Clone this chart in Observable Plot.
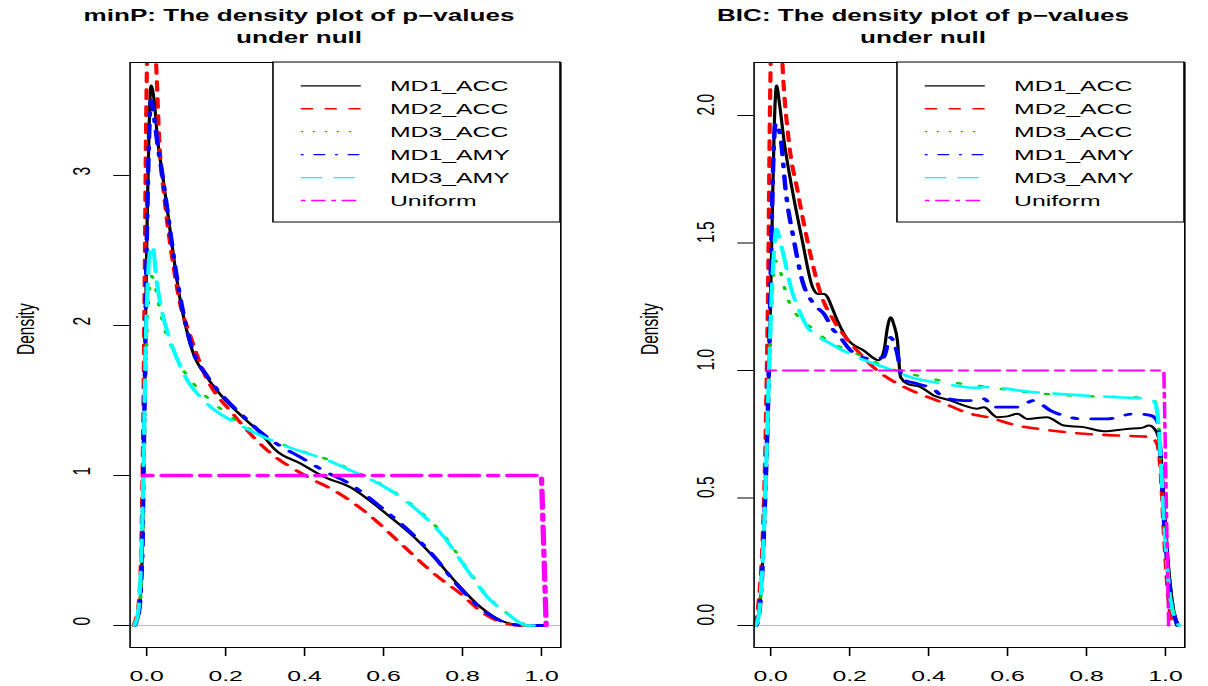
<!DOCTYPE html>
<html><head><meta charset="utf-8">
<script src="https://cdn.jsdelivr.net/npm/d3@7"></script>
<script src="https://cdn.jsdelivr.net/npm/@observablehq/plot@0.6"></script>
<style>
body{margin:0;background:#fff;}
#wrap{display:flex;width:1208px;height:686px;overflow:hidden;}
</style></head><body><div id="wrap"></div>
<script>
// ---------- data ----------
const seriesNames = ["MD1_ACC","MD2_ACC","MD3_ACC","MD1_AMY","MD3_AMY","Uniform"];
const seriesColors = ["#000000","#FF0000","#00CD00","#0000FF","#00FFFF","#FF00FF"];
const xTicks = [0,0.2,0.4,0.6,0.8,1.0];
const xTickLabels = ["0.0","0.2","0.4","0.6","0.8","1.0"];
const minPYTicks = [0,1,2,3];
const minPYTickLabels = ["0","1","2","3"];
const bicYTicks = [0,0.5,1,1.5,2];
const bicYTickLabels = ["0.0","0.5","1.0","1.5","2.0"];
const titles = ["minP: The density plot of p\u2212values\nunder null","BIC: The density plot of p\u2212values\nunder null"];
const yLabel = "Density";

// minP panel
const minP_MD1_ACC = [[-0.031,0],[-0.022,0.05],[-0.019,0.1],[-0.014,0.28],[-0.010,0.61],[-0.008,1.05],[-0.004,1.72],[-0.002,2.17],[0.002,2.8],[0.006,3.3],[0.011,3.6],[0.019,3.5],[0.028,3.23],[0.040,3.01],[0.057,2.68],[0.074,2.35],[0.09,2.1],[0.104,1.94],[0.116,1.83],[0.154,1.65],[0.2,1.5],[0.239,1.40],[0.298,1.255],[0.323,1.178],[0.391,1.078],[0.45,0.99],[0.517,0.92],[0.602,0.755],[0.669,0.61],[0.728,0.455],[0.787,0.278],[0.846,0.122],[0.897,0.033],[0.93,0.008],[0.956,0],[1.01,0]];
const minP_MD2_ACC = [[-0.033,0],[-0.02,0.15],[-0.013,0.6],[-0.008,1.5],[-0.004,2.6],[-0.002,3.2],[0.002,3.9],[0.008,4.3],[0.014,4.3],[0.02,4.0],[0.024,3.75],[0.032,3.23],[0.045,2.85],[0.062,2.5],[0.087,2.12],[0.108,1.95],[0.146,1.68],[0.222,1.4],[0.306,1.167],[0.408,0.99],[0.475,0.9],[0.56,0.745],[0.644,0.545],[0.728,0.345],[0.796,0.21],[0.855,0.078],[0.914,0.01],[0.95,0],[1.01,0]];
const minP_MD3_ACC = [[-0.03,0],[-0.019,0.1],[-0.013,0.3],[-0.009,0.65],[-0.006,1.1],[-0.002,1.7],[0.004,2.15],[0.012,2.33],[0.02,2.28],[0.03,2.15],[0.045,1.98],[0.06,1.88],[0.08,1.76],[0.104,1.66],[0.13,1.58],[0.18,1.46],[0.23,1.36],[0.3,1.255],[0.391,1.165],[0.45,1.115],[0.517,1.04],[0.57,0.975],[0.618,0.905],[0.686,0.775],[0.753,0.6],[0.813,0.375],[0.863,0.195],[0.914,0.08],[0.965,0.005],[1.01,0]];
const minP_MD1_AMY = [[-0.03,0],[-0.019,0.1],[-0.014,0.28],[-0.010,0.62],[-0.008,1.05],[-0.004,1.72],[-0.002,2.17],[0.002,2.8],[0.006,3.25],[0.011,3.5],[0.017,3.42],[0.028,3.2],[0.040,3.0],[0.057,2.68],[0.074,2.36],[0.09,2.12],[0.104,1.95],[0.116,1.84],[0.154,1.66],[0.2,1.51],[0.239,1.41],[0.298,1.27],[0.33,1.21],[0.391,1.12],[0.45,1.03],[0.517,0.94],[0.602,0.77],[0.669,0.62],[0.728,0.46],[0.787,0.27],[0.846,0.115],[0.897,0.03],[0.93,0.006],[0.956,0],[1.01,0]];
const minP_MD3_AMY = [[-0.031,0],[-0.022,0.08],[-0.016,0.3],[-0.011,0.7],[-0.007,1.2],[-0.003,1.8],[0.003,2.3],[0.009,2.5],[0.015,2.53],[0.025,2.3],[0.04,2.08],[0.057,1.92],[0.08,1.76],[0.104,1.63],[0.13,1.54],[0.163,1.455],[0.23,1.345],[0.306,1.245],[0.391,1.16],[0.45,1.11],[0.517,1.033],[0.57,0.97],[0.618,0.9],[0.686,0.767],[0.753,0.59],[0.813,0.367],[0.863,0.19],[0.914,0.078],[0.965,0.0],[1.01,0]];
const minP_Uniform = [[-0.01,1],[1.0,1],[1.012,0]];

// BIC panel
const bic_MD1_ACC = [[-0.038,0],[-0.03,0.05],[-0.022,0.2],[-0.017,0.36],[-0.008,0.75],[-0.002,1.145],[0.004,1.6],[0.009,1.95],[0.015,2.118],[0.022,2.05],[0.034,1.90],[0.055,1.706],[0.080,1.51],[0.106,1.327],[0.12,1.30],[0.135,1.30],[0.145,1.285],[0.152,1.26],[0.169,1.196],[0.194,1.124],[0.236,1.078],[0.274,1.04],[0.287,1.078],[0.296,1.17],[0.304,1.209],[0.312,1.18],[0.321,1.118],[0.329,0.974],[0.346,0.948],[0.38,0.935],[0.413,0.902],[0.456,0.882],[0.489,0.863],[0.523,0.85],[0.54,0.856],[0.574,0.817],[0.6,0.82],[0.625,0.83],[0.65,0.81],[0.70,0.817],[0.743,0.784],[0.793,0.778],[0.844,0.762],[0.903,0.771],[0.94,0.775],[0.958,0.784],[0.975,0.765],[0.987,0.70],[0.996,0.49],[1.008,0.229],[1.021,0.059],[1.034,0]];
const bic_MD2_ACC = [[-0.04,0],[-0.03,0.1],[-0.02,0.35],[-0.012,0.8],[-0.006,1.4],[-0.002,2.0],[0.002,2.35],[0.008,2.55],[0.015,2.6],[0.022,2.5],[0.030,2.2],[0.046,1.90],[0.068,1.706],[0.093,1.51],[0.127,1.3],[0.16,1.196],[0.19,1.13],[0.219,1.078],[0.27,1.0],[0.338,0.935],[0.422,0.882],[0.523,0.824],[0.54,0.82],[0.625,0.784],[0.709,0.765],[0.793,0.752],[0.878,0.745],[0.962,0.739],[0.979,0.713],[0.987,0.62],[0.996,0.36],[1.008,0.098],[1.017,0.008],[1.025,0]];
const bic_MD3_ACC = [[-0.037,0],[-0.028,0.06],[-0.02,0.25],[-0.013,0.5],[-0.006,0.85],[0,1.15],[0.006,1.35],[0.012,1.43],[0.02,1.41],[0.042,1.287],[0.07,1.21],[0.101,1.17],[0.144,1.118],[0.219,1.065],[0.304,1.007],[0.371,0.98],[0.456,0.954],[0.523,0.941],[0.65,0.915],[0.751,0.902],[0.911,0.895],[0.962,0.892],[0.975,0.875],[0.983,0.78],[0.996,0.43],[1.013,0.1],[1.034,0]];
const bic_MD1_AMY = [[-0.036,0],[-0.028,0.06],[-0.02,0.25],[-0.014,0.5],[-0.007,0.85],[-0.002,1.2],[0.003,1.6],[0.008,1.88],[0.013,1.97],[0.02,1.95],[0.025,1.915],[0.038,1.706],[0.059,1.51],[0.080,1.353],[0.11,1.26],[0.135,1.222],[0.16,1.157],[0.169,1.144],[0.203,1.078],[0.253,1.046],[0.287,1.052],[0.296,1.1],[0.304,1.13],[0.312,1.11],[0.321,1.065],[0.333,0.967],[0.371,0.948],[0.39,0.94],[0.405,0.935],[0.439,0.895],[0.489,0.882],[0.523,0.882],[0.54,0.889],[0.565,0.856],[0.625,0.856],[0.667,0.882],[0.709,0.843],[0.793,0.81],[0.852,0.81],[0.92,0.83],[0.962,0.824],[0.979,0.804],[0.987,0.686],[0.996,0.425],[1.013,0.124],[1.03,0]];
const bic_MD3_AMY = [[-0.038,0],[-0.03,0.04],[-0.022,0.2],[-0.015,0.45],[-0.008,0.8],[-0.002,1.1],[0.004,1.35],[0.01,1.5],[0.015,1.556],[0.022,1.52],[0.034,1.444],[0.051,1.327],[0.076,1.222],[0.093,1.17],[0.11,1.145],[0.152,1.105],[0.219,1.052],[0.287,1.013],[0.354,0.974],[0.439,0.948],[0.523,0.932],[0.54,0.935],[0.667,0.915],[0.793,0.902],[0.878,0.895],[0.962,0.889],[0.975,0.869],[0.983,0.778],[0.996,0.425],[1.013,0.098],[1.034,0]];
const bic_Uniform = [[-0.008,1],[0.996,1],[1.008,0]];

// ---------- styles ----------
const FONT = "'Liberation Sans', Arial, Helvetica, sans-serif";
const SX = 1.6; // horizontal stretch of the whole picture
const curveStyles = [
  {w:2.0, dash:null},
  {w:2.6, dash:"9,8"},
  {w:2.2, dash:"2,12"},
  {w:2.8, dash:"3,9,13,9"},
  {w:2.6, dash:"22,10"},
  null
];
const legendDash = [null,"7.6,7.3","1.5,6","1.7,6.2,7.3,6.2","13.3,7","3,3.5,9,3.5"];

function panel(opts) {
  const {series, uniformStyle, yDomain, yTicks, yTickLabels, title, mL, mR} = opts;
  const W = 604 / SX, H = 686, mT = 62, mB = 39;
  const marks = [
    Plot.ruleY([0], {stroke: "#bebebe", strokeWidth: 1})
  ];
  series.forEach((data, i) => {
    const st = i === 5 ? uniformStyle : curveStyles[i];
    marks.push(Plot.line(data, {
      x: d => d[0], y: d => d[1], stroke: seriesColors[i],
      strokeWidth: st.w, strokeDasharray: st.dash || undefined,
      curve: i === 5 ? "linear" : "monotone-x", clip: true
    }));
  });
  marks.push(Plot.frame({stroke: "black", strokeWidth: 1}));
  marks.push(Plot.text(yTicks, {y: d => d, text: (d, i) => yTickLabels[i], frameAnchor: "left", dx: -30.3, rotate: -90, fontSize: 15.5, fill: "black"}));
  marks.push(Plot.text([yLabel], {frameAnchor: "left", dx: -65, rotate: -90, fontSize: 15.5, fill: "black"}));
  marks.push(Plot.text([title], {frameAnchor: "top", dx: -29, dy: -20, lineAnchor: "bottom", lineHeight: 1.3125, fontWeight: "bold", fontSize: 16.3, fill: "black"}));

  const svg = Plot.plot({
    width: W, height: H,
    marginTop: mT, marginBottom: mB, marginLeft: mL, marginRight: mR,
    style: {fontFamily: FONT, fontSize: "15.5px", color: "black", background: "white", overflow: "visible"},
    x: {domain: [-0.042, 1.049], ticks: xTicks, tickSize: 9, tickPadding: 13,
        tickFormat: (d, i) => xTickLabels[xTicks.indexOf(d)], label: null},
    y: {domain: yDomain, ticks: yTicks, tickSize: 10, tickFormat: () => "", label: null},
    marks
  });

  // legend (positioned relative to the plot frame, like R's "topright")
  const fr = W - mR;
  const g = d3.select(svg).append("g").attr("font-family", FONT).attr("font-size", 15.5)
    .attr("text-anchor", "start");
  g.append("rect").attr("x", fr - 179.4).attr("y", mT).attr("width", 179.4).attr("height", 160)
    .attr("fill", "white").attr("stroke", "black").attr("stroke-width", 1);
  seriesNames.forEach((name, i) => {
    const y = 85.8 + i * 22.94;
    g.append("line").attr("x1", fr - 162).attr("x2", fr - 124.5).attr("y1", y).attr("y2", y)
      .attr("stroke", seriesColors[i]).attr("stroke-width", 1.3)
      .attr("stroke-dasharray", legendDash[i]);
    g.append("text").attr("x", fr - 106.25).attr("y", y).attr("dy", "0.36em")
      .attr("text-anchor", "start").attr("fill", "black").text(name);
  });

  svg.setAttribute("width", 604);
  svg.setAttribute("height", 686);
  svg.setAttribute("preserveAspectRatio", "none");
  svg.style.maxWidth = "none";
  svg.style.width = "604px";
  svg.style.height = "686px";
  return svg;
}

const wrap = document.getElementById("wrap");
wrap.appendChild(panel({
  series: [minP_MD1_ACC, minP_MD2_ACC, minP_MD3_ACC, minP_MD1_AMY, minP_MD3_AMY, minP_Uniform],
  uniformStyle: {w: 3.3, dash: "6,6,18,6"},
  yDomain: [-0.1467, 3.753], yTicks: minPYTicks, yTickLabels: minPYTickLabels,
  title: titles[0], mL: 80.8, mR: 27.5
}));
wrap.appendChild(panel({
  series: [bic_MD1_ACC, bic_MD2_ACC, bic_MD3_ACC, bic_MD1_AMY, bic_MD3_AMY, bic_Uniform],
  uniformStyle: {w: 2.2, dash: "5,5,15,5"},
  yDomain: [-0.0863, 2.2078], yTicks: bicYTicks, yTickLabels: bicYTickLabels,
  title: titles[1], mL: 93.3, mR: 15
}));
</script></body></html>
